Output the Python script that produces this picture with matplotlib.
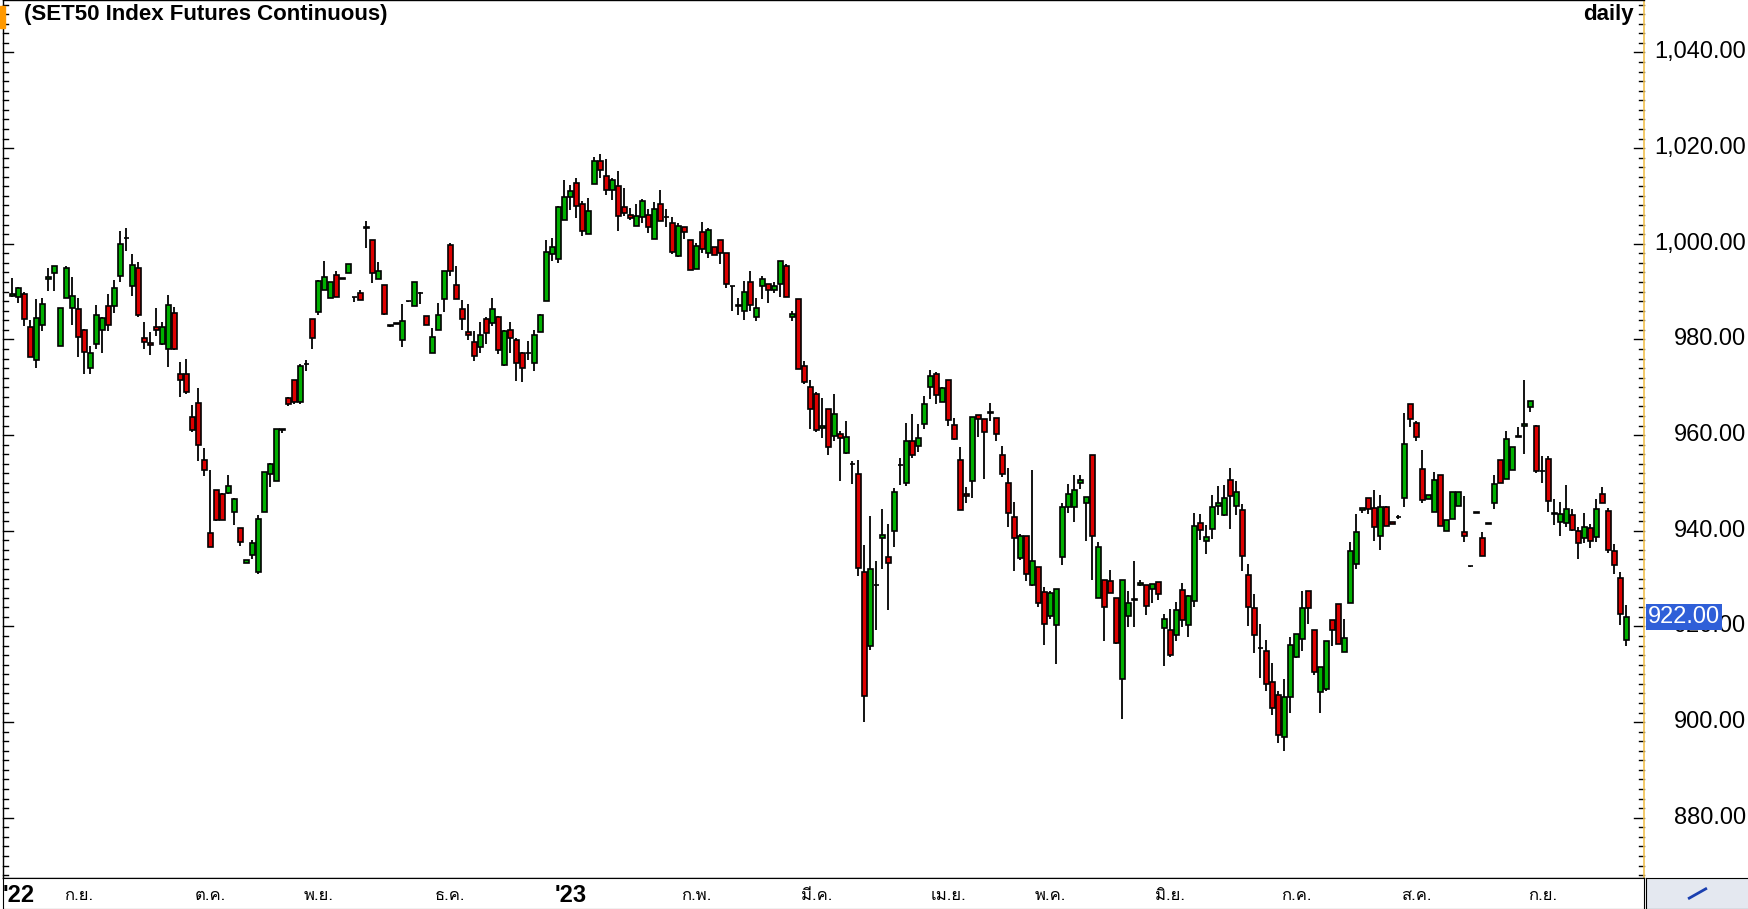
import matplotlib
matplotlib.use("Agg")
import matplotlib.pyplot as plt
from matplotlib.patches import Rectangle
from matplotlib import font_manager
from matplotlib.ft2font import FT2Font
import numpy as np

ohlc = [
(989,992.8,988.8,989.5),(988.8,991,987.7,990.7),(989.4,989.9,982.8,984.2),(982.5,984,976.3,976.3),
(975.8,988.4,974.1,984.4),(983,988.6,981.8,987.5),(992.6,994.9,990.2,993),(993.8,995.3,990.2,995.3),
(978.7,986.5,978.7,986.5),(988.6,995.3,988.6,994.9),(986.5,993,983,989),(986.4,988.6,976.4,980.6),
(981.9,982.1,972.7,977.3),(974.1,978.6,972.7,977.1),(979,987.1,978.1,985.2),(981.9,984.6,977.2,984.4),
(986.9,989.4,981.8,983.1),(986.9,992.5,985.6,990.7),(993.3,1002.7,991.9,999.9),(1001.1,1003.3,998.5,1001.1),
(991.1,997.8,989.1,995.5),(994.9,996.2,984.6,985),(980.2,983.6,978,979.4),(979.2,981.5,976.7,978.8),
(982.5,986.6,980.8,981.9),(979,983.6,978.8,982.5),(978.1,989.2,974.2,987.1),(985.6,986.7,977.7,977.9),
(972.7,975.2,967.9,971.6),(972.7,976,968.5,969.1),(963.7,966.2,960.6,961),(966.8,969.8,954.5,958),
(954.7,957.4,951.4,952.8),(939.6,952.6,936.7,936.7),(948.6,948.6,942,942.2),(947.6,947.8,942.2,942.2),
(947.8,951.6,947.6,949.3),(944,946.8,941.1,946.6),(940.5,940.5,936.9,937.6),(933.3,933.9,933.3,933.9),
(934.9,938,934,937.4),(931.3,943.2,930.9,942.4),(944,952.2,944,952.2),(951.8,954.1,949.1,953.9),
(950.5,961.2,950.5,961.2),(961,961.2,960.4,961.2),(967.7,967.9,966,966.6),(971.6,971.6,966.5,967),
(967,974.8,966.5,974.4),(974.8,975.6,973.5,974.8),(984.2,984.2,978.1,980.4),(985.7,992.5,985.1,992.3),
(990.3,996.4,990.3,993),(988.6,992.1,988.6,992.1),(993.4,994.2,988.8,988.8),(992.7,992.8,992.6,992.7),
(993.8,995.7,993.8,995.7),(988.8,988.8,987.9,988.8),(989.8,990.3,988.2,988.2),(1003.2,1004.7,999.2,1003.6),
(1000.7,1000.7,991.7,993.8),(992.7,996.1,992.7,994.4),(991.3,991.3,985,985.4),(982.9,983.1,982.6,982.9),
(983.3,983.4,983.2,983.3),(979.8,987.3,978.5,983.8),(988,988.1,987.9,988),(986.9,992.1,986.9,992.1),
(989.6,990,987.5,989.6),(984.8,984.8,983.1,983.1),(977.1,982.3,977.1,980.6),(981.9,987.7,981.9,985.2),
(988.4,994.4,985.7,994.4),(999.7,1000.1,993.2,994.2),(991.3,995.3,988.4,988.4),(986.3,988.2,981.9,984.2),
(981.5,987.3,979.8,980.9),(979.4,981.7,975.4,976.5),(978.5,983.6,977.1,980.9),(984.2,984.6,979,981.3),
(983.4,988.6,982.7,986.3),(984.6,984.8,976.9,977.7),(974.6,981.9,974.4,981.7),(981.9,983.6,977.1,980.2),
(979.8,980.4,971.4,975),(977.1,977.3,971,974),(977.1,979.6,975.8,977.1),(975,981.9,973.5,981),
(981.5,985.4,981.5,985),(988,1000.7,988,998.2),(997.9,1001.1,996.3,999.4),(996.9,1007.8,995.9,1007.6),
(1004.9,1013.3,1004.9,1009.7),(1009.8,1012.2,1007.1,1011.1),(1012.6,1013.7,1005.3,1007.9),(1008.4,1008.9,1001.6,1002.6),
(1002,1009.5,1002,1006.9),(1012.4,1018.2,1012.4,1017.2),(1017.2,1018.7,1013.8,1015.4),(1014.1,1017.7,1010.2,1011.3),
(1011.2,1013.7,1009.2,1013.3),(1012,1015.2,1002.7,1005.9),(1007.6,1011.7,1005.7,1006.5),(1006.1,1007.4,1004.9,1005.4),
(1003.8,1008.3,1003.8,1005.7),(1005.5,1009.3,1004.4,1009),(1006.1,1007.3,1002.3,1003.6),(1000.9,1008.7,1000.9,1007.2),
(1008.4,1011.2,1004.7,1004.7),(1005.5,1007.3,1003.6,1005.5),(1004.4,1005.6,997.8,998.3),(997.5,1004.4,997.2,1003.8),
(1003.4,1003.6,1000.9,1002.4),(1000.7,1000.7,994.6,994.6),(994.8,1000.1,994.8,999.6),(1002.5,1004.5,998,999),
(998,1003.3,997.1,1002.9),(999.4,999.4,997.7,997.7),(1000.8,1000.8,995.8,998),(998,998,990.8,991.5),
(991.1,991.2,985.9,991.1),(986.9,988.6,985.2,987.2),(985.9,992.2,984,990),(992.1,994.3,985.9,987.2),
(984.7,988.6,983.9,986.6),(991.2,993.2,988.4,992.7),(991.6,991.6,987.6,990.4),(990.4,992.1,989.8,991.2),
(991.6,996.4,988.9,996.4),(995.4,995.7,988.8,988.8),(984.7,986,983.9,985.4),(988.5,988.5,973.9,973.9),
(974.5,975.5,970.6,971),(970.1,971.5,961.3,965.5),(968.6,969.1,960.6,961),(961.4,967.7,959.4,962),
(965.5,965.5,955.8,957.6),(959.8,968.5,958.8,964.5),(960.2,960.8,950.4,959.4),(956.2,963,956,959.6),
(953.9,954.5,949.8,953.9),(951.8,954.7,930.5,932.3),(931.3,937.1,900.1,905.4),(915.8,943,915,931.9),
(928.7,933.6,919.2,928.7),(938.4,944.5,932.1,939.2),(934.6,941.5,923.5,933.2),(939.9,948.9,936.5,948),
(953.7,955.3,949.5,953.7),(949.9,962.6,949.3,958.7),(958.7,964.4,955.3,955.8),(957.8,962.3,956.4,959.3),
(962.4,968.1,961.2,966.4),(970,973.7,967.5,972.3),(972.7,973.1,966.4,968.3),(967,970,967,969.8),
(971.6,971.6,962,963.1),(962.2,963.5,958.9,959.1),(954.7,957.6,944.3,944.3),(947.6,949.1,945.9,947.2),
(950.3,963.7,946.8,963.7),(964.1,964.3,959.7,963.3),(963.3,963.3,950.9,960.6),(964.7,966.8,962.9,964.7),
(963.5,963.5,958.7,960.3),(955.8,957.8,951.2,951.8),(949.9,953.2,940.7,943.8),(942.8,946.1,931.6,938.4),
(934.2,939.4,933.8,938.8),(938.8,938.8,929.4,930.9),(928.6,952.6,928.4,933.6),(932.5,932.5,924,924.8),
(927.1,928.2,916.2,920.4),(922.1,927.3,921.5,926.9),(920.2,927.9,912.1,927.9),(934.6,945.9,932.9,944.9),
(944.9,949.7,943.8,947.6),(944.9,951.6,941.9,948.6),(949.9,951.6,948.8,950.7),(945.9,947,937.8,947),
(955.8,955.8,929.8,938.8),(925.9,937.6,925.9,936.5),(929.6,929.8,916.9,924),(929.4,931.7,926.9,926.9),
(925.9,925.9,916.4,916.6),(908.9,929.6,900.7,929.6),(922.1,927.5,919.8,924.8),(925.6,933.6,919.9,925.6),
(928.6,929.6,928.4,929),(928.6,928.6,922.3,924.2),(927.9,928.8,924.8,928.8),(929.2,929.2,925.6,926.7),
(919.6,922.5,911.8,921.5),(919.2,923.6,913.5,914.1),(918.3,925,916.9,923.4),(927.7,929,919.8,921.3),
(920.2,926.5,917.7,926.3),(925.4,943.8,924,940.9),(941.7,943.4,938,940.1),(937.8,941.1,935.1,938.6),
(940.3,947.4,938.2,944.9),(945.1,949.3,943.2,945.7),(943.2,949.5,943,946.8),(950.7,953.2,940.3,947.2),
(945.1,950.5,943.2,948),(944.3,945.5,931.5,934.8),(930.7,933,920,924),(923.8,926.7,914.4,918.3),
(915.4,920.6,909.3,915.4),(914.8,917.1,906.4,907.9),(908.3,912.3,901.4,902.9),(905.6,906.4,895.7,897.4),
(896.8,909.1,893.9,905.2),(905.2,917.7,901.8,916.2),(913.5,918.5,913.3,918.5),(917.3,927.5,914.8,923.8),
(927.3,927.3,920.4,923.8),(919.2,919.2,909.8,910.4),(906.2,911.6,901.8,911.6),(907,916.9,906.4,916.9),
(921.3,921.3,915.8,919.2),(924.6,924.6,916.4,916.4),(914.6,921.5,914.6,917.5),(924.8,937.6,924.8,935.7),
(933,943.6,931.9,939.7),(944.3,944.7,943.8,944.7),(946.8,946.8,943.6,944.5),(944.7,948.6,937.8,940.7),
(938.8,947.4,935.9,944.9),(944.9,945.1,940.9,940.9),(941.9,941.9,941.5,941.5),(942.8,943.2,942.4,942.8),
(946.8,964.7,944.9,958.1),(966.6,966.6,961.7,963.3),(962.6,962.9,958.8,959.7),(953,956.9,945.9,946.4),
(946.6,947.5,946.6,947.5),(944,952.2,944,950.7),(951.6,951.6,941,941),(939.9,942.2,939.9,942.2),
(942.4,948.2,942.4,948.2),(945.1,948.2,945.1,948.2),(939.7,947.2,937.7,938.8),(932.6,932.7,932.5,932.6),
(943.8,943.9,943.7,943.8),(938.4,939.7,934.8,934.8),(941.5,941.6,941.4,941.5),(945.7,951.6,944.5,949.7),
(954.7,954.7,949.9,949.9),(950.9,960.8,950.9,959.1),(952.8,957.6,952.8,957.6),(959.7,961.6,959.7,959.7),
(961.8,971.6,956,962.4),(965.8,967.2,964.9,967.2),(961.8,962.2,952,952.4),(952.4,955.7,949.9,952.4),
(955.1,955.7,944,946.3),(943.6,946.6,941.3,943.6),(941.9,946.1,939,943.6),(941.7,949.5,940.7,944.5),
(943.2,944.5,939.9,940.1),(939.9,940.7,934,937.4),(938.4,943.8,937.4,940.7),(940.5,941.5,936.3,937.8),
(938.6,946.6,937.6,944.5),(947.6,949.1,945.9,945.9),(944.2,944.7,935.3,935.9),(935.7,937.2,930.9,932.9),
(930.2,931.3,920.2,922.5),(917.2,924.4,916,922.0),
]
opens = [r[0] for r in ohlc]
highs = [r[1] for r in ohlc]
lows = [r[2] for r in ohlc]
closes = [r[3] for r in ohlc]

month_pos = [1, 11, 33, 51, 73, 93, 114, 134, 156, 173, 193, 214, 234, 255]
month_labels = ["'22", "ก.ย.", "ต.ค.", "พ.ย.", "ธ.ค.", "'23", "ก.พ.", "มี.ค.", "เม.ย.", "พ.ค.", "มิ.ย.", "ก.ค.", "ส.ค.", "ก.ย."]
yticks = [880, 900, 920, 940, 960, 980, 1000, 1020, 1040]

# find an installed family with Thai glyphs
thai_fam = []
for fe in font_manager.fontManager.ttflist:
    try:
        cm = FT2Font(fe.fname).get_charmap()
    except Exception:
        continue
    if 0x0E01 in cm and 0x0E21 in cm:
        if fe.name not in thai_fam:
            thai_fam.append(fe.name)
fam = ['Liberation Sans', 'DejaVu Sans'] + thai_fam
thai_list = thai_fam + ['Liberation Sans', 'DejaVu Sans']

W, H = 1749, 909
fig = plt.figure(figsize=(W/100, H/100), dpi=100)
ax = fig.add_axes([3/W, (H-878)/H, (1644-3)/W, 878/H])
n = len(opens)
x = np.arange(n)
for i in range(n):
    o, h, l, c = opens[i], highs[i], lows[i], closes[i]
    col = '#00b000' if c >= o else '#dd0000'
    ax.vlines(x[i], l, h, color='black', lw=1.3, zorder=1)
    ax.add_patch(Rectangle((x[i]-0.38, min(o, c)), 0.76, max(abs(c-o), 0.05),
                           facecolor=col, edgecolor='black', lw=1.2, zorder=2))
ax.set_xlim(-1.55, 271.95)
ax.set_ylim(867.4, 1050.96)
ax.set_xticks([]); ax.set_yticks([])
for s in ['top', 'bottom', 'left']:
    ax.spines[s].set_color('black'); ax.spines[s].set_linewidth(1)
ax.spines['right'].set_color('#f0c050'); ax.spines['right'].set_linewidth(1.2)
for v in np.arange(868, 1051, 2):
    ln = 0.9 if v % 20 else 1.6
    ax.plot([-1.55, -1.55+ln], [v, v], color='black', lw=1, clip_on=False)
    ax.plot([271.95-ln, 271.95], [v, v], color='black', lw=1, clip_on=False)
ax.text(0.013, 0.996, "(SET50 Index Futures Continuous)", transform=ax.transAxes, ha='left', va='top',
        fontsize=16, fontweight='bold', family=fam)
ax.text(0.994, 0.996, "daily", transform=ax.transAxes, ha='right', va='top',
        fontsize=16, fontweight='bold', family=fam)
fig.patches.append(Rectangle((0, 1-28/H), 5/W, 22/H, transform=fig.transFigure, color='#ff9900'))

for v in yticks:
    yf = ax.transData.transform((0, v))[1] / H
    fig.text(1746/W, yf, f"{v:,.2f}", ha='right', va='center', fontsize=17, family=fam, zorder=1)
yf = ax.transData.transform((0, 922))[1] / H
fig.text(1648/W, yf, "922.00", ha='left', va='center', fontsize=17, color='white', family=fam, zorder=5,
         bbox=dict(boxstyle='square,pad=0.08', facecolor='#2f5fd8', edgecolor='none'))

bax = fig.add_axes([3/W, 0, (1644-3)/W, (H-878)/H], sharex=ax)
bax.set_ylim(0, 1); bax.set_yticks([]); bax.set_xticks([])
for s in bax.spines.values():
    s.set_color('black')
for p, lab in zip(month_pos, month_labels):
    big = lab.startswith("'")
    bax.text(p, 0.42, lab, ha='center', va='center', fontsize=17 if big else 12,
             fontweight='bold' if big else 'normal', family=fam if big else thai_list)
cax = fig.add_axes([1646/W, 0, (W-1646)/W, (H-878)/H])
cax.set_facecolor('#e4e8f0'); cax.set_xticks([]); cax.set_yticks([])
cax.plot([0.42, 0.58], [0.35, 0.65], color='#1a3fb0', lw=2)
cax.set_xlim(0, 1); cax.set_ylim(0, 1)
fig.savefig("out.png", dpi=100)
